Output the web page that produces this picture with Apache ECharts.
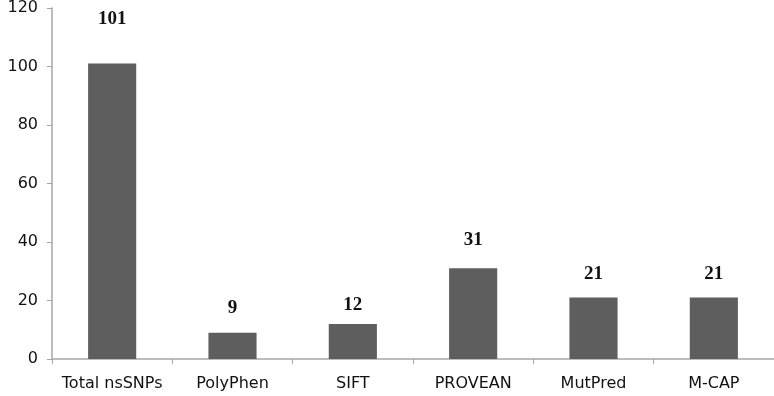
<!DOCTYPE html>
<html>
<head>
<meta charset="UTF-8">
<title>nsSNPs</title>
<script src="https://cdn.jsdelivr.net/npm/echarts@6/dist/echarts.min.js"></script>
<style>
	html, body { margin: 0; padding: 0; background: #fff; }
	#chart { width: 774px; height: 396px; }
</style>
</head>
<body>
<div id="chart"></div>
<script type="text/javascript">
	// data
	var categories = ['Total nsSNPs', 'PolyPhen', 'SIFT', 'PROVEAN', 'MutPred', 'M-CAP'];
	var counts = [101, 9, 12, 31, 21, 21];
	var yTicks = [0, 20, 40, 60, 80, 100, 120];

	// value labels sit at uneven heights in the original
	var labelGap = [35, 15, 9, 19, 14, 14];

	var chart = echarts.init(document.getElementById('chart'));

	var barData = [];
	for (var i = 0; i < counts.length; i++) {
		barData.push({
			value: counts[i],
			label: { distance: labelGap[i] }
		});
	}

	var option = {
		animation: false,
		grid: { left: 52, right: 0, top: 7, bottom: 37 },
		xAxis: {
			type: 'category',
			data: categories,
			axisLine: { lineStyle: { color: '#a6a6a6', width: 1.5 } },
			axisTick: { show: true, interval: 0, length: 5, lineStyle: { color: '#a6a6a6' } },
			axisLabel: {
				interval: 0,
				color: '#111',
				fontFamily: 'DejaVu Sans',
				fontSize: 16,
				margin: 17
			}
		},
		yAxis: {
			type: 'value',
			min: yTicks[0],
			max: yTicks[yTicks.length - 1],
			interval: yTicks[1] - yTicks[0],
			splitLine: { show: false },
			axisLine: { show: true, lineStyle: { color: '#a6a6a6', width: 1.5 } },
			axisTick: { show: true, length: 5, lineStyle: { color: '#a6a6a6' } },
			axisLabel: {
				color: '#111',
				fontFamily: 'DejaVu Sans',
				fontSize: 16,
				margin: 14
			}
		},
		series: [{
			type: 'bar',
			data: barData,
			barWidth: '40%',
			itemStyle: { color: '#5e5e5e' },
			label: {
				show: true,
				position: 'top',
				color: '#111',
				fontFamily: 'Liberation Serif',
				fontWeight: 'bold',
				fontSize: 19
			}
		}]
	};

	chart.setOption(option);
</script>
</body>
</html>
